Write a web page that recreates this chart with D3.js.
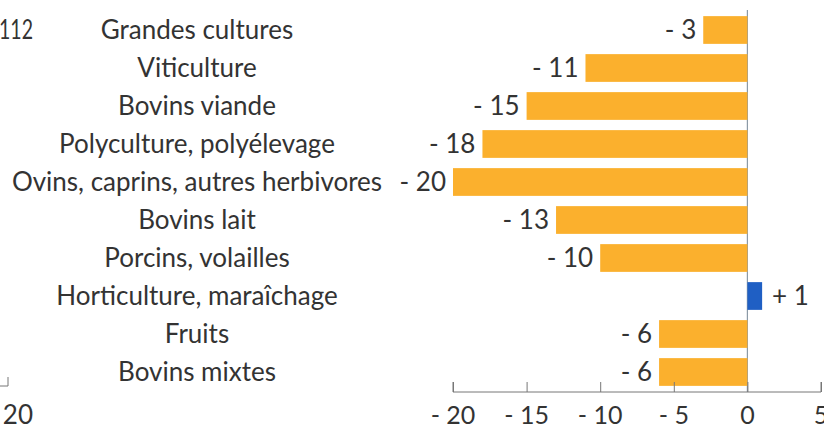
<!DOCTYPE html>
<html>
<head>
<meta charset="utf-8">
<script src="https://cdn.jsdelivr.net/npm/d3@7"></script>
<style>
  body { margin: 0; background: #fff; }
  svg text { font-family: Lato, "Open Sans", sans-serif; fill: #333; }
</style>
</head>
<body>
<div id="chart"></div>
<script>
// categories and change values (points)
var categories = ["Grandes cultures", "Viticulture", "Bovins viande", "Polyculture, polyélevage",
    "Ovins, caprins, autres herbivores", "Bovins lait", "Porcins, volailles",
    "Horticulture, maraîchage", "Fruits", "Bovins mixtes"];
var values = [-3, -11, -15, -18, -20, -13, -10, 1, -6, -6];
var xTicks = [-20, -15, -10, -5, 0, 5];

var width = 824, height = 429;

var svg = d3.select("#chart").append("svg")
    .attr("width", width)
    .attr("height", height);

var x = d3.scaleLinear().domain([-20, 5]).range([453, 821]);
var y = d3.scaleBand().domain(categories).range([11, 391])
    .paddingInner(0.27).paddingOuter(0.135);

function fmt(v) {
    return (v < 0 ? "- " : "+ ") + Math.abs(v);
}

// zero reference line
svg.append("line")
    .attr("x1", x(0)).attr("x2", x(0))
    .attr("y1", 10).attr("y2", 392)
    .attr("stroke", "#8c9aa6").attr("stroke-width", 1.2);

// bars
svg.selectAll("rect.bar").data(values).enter().append("rect")
    .attr("class", "bar")
    .attr("x", function(d){ return x(Math.min(0, d)); })
    .attr("y", function(d, i){ return y(categories[i]); })
    .attr("width", function(d){ return Math.abs(x(d) - x(0)); })
    .attr("height", y.bandwidth())
    .attr("fill", function(d){ return d < 0 ? "#fbb02d" : "#1f5fc4"; });

// value labels
svg.selectAll("text.val").data(values).enter().append("text")
    .attr("class", "val")
    .attr("x", function(d){ return d < 0 ? x(d) - 7 : x(d) + 10; })
    .attr("y", function(d, i){ return y(categories[i]) + y.bandwidth() / 2; })
    .attr("dy", "0.35em")
    .attr("text-anchor", function(d){ return d < 0 ? "end" : "start"; })
    .style("font-size", "26px")
    .text(fmt);

// category labels
svg.selectAll("text.cat").data(categories).enter().append("text")
    .attr("class", "cat")
    .attr("x", 197)
    .attr("y", function(d){ return y(d) + y.bandwidth() / 2; })
    .attr("dy", "0.35em")
    .attr("text-anchor", "middle")
    .style("font-size", "26px")
    .text(function(d){ return d; });

// x axis, ticks pointing up
var axis = svg.append("g")
    .attr("transform", "translate(0,392)")
    .call(d3.axisTop(x).tickValues(xTicks).tickSize(10).tickFormat(""));
axis.select(".domain").attr("stroke", "#777").attr("d", "M" + x(-20) + ",-10V0H" + x(5) + "V-10");
axis.selectAll(".tick line").attr("stroke", "#777");

svg.selectAll("text.tick").data(xTicks).enter().append("text")
    .attr("class", "tick")
    .attr("x", function(d){ return x(d); })
    .attr("y", 415)
    .attr("dy", "0.35em")
    .attr("text-anchor", "middle")
    .style("font-size", "25px")
    .text(function(d){ return d < 0 ? "- " + Math.abs(d) : d; });

// fragments of the neighbouring chart on the left
svg.append("text").attr("x", -1).attr("y", 30).attr("dy", "0.35em")
    .attr("textLength", 34).attr("lengthAdjust", "spacingAndGlyphs")
    .style("font-size", "26px").text("112");
svg.append("path").attr("d", "M0,386H8V377").attr("fill", "none").attr("stroke", "#777");
svg.append("text").attr("x", 33).attr("y", 415).attr("dy", "0.35em")
    .attr("text-anchor", "end").style("font-size", "26px").text("20");
</script>
</body>
</html>
